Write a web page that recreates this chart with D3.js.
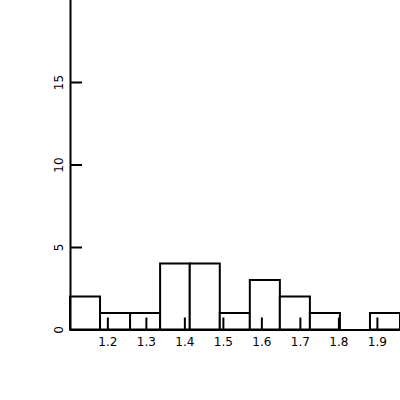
<!DOCTYPE html>
<html>
<head>
<meta charset="utf-8">
<script src="https://cdn.jsdelivr.net/npm/d3@7"></script>
<style>
  body { margin: 0; background: #fff; }
  svg { display: block; }
</style>
</head>
<body>
<div id="chart"></div>
<script>
// histogram bins
var binEdges = [1.103, 1.181, 1.259, 1.337, 1.414, 1.492, 1.570, 1.648, 1.726, 1.804, 1.882, 1.960];
var counts = [2, 1, 1, 4, 4, 1, 3, 2, 1, 0, 1];
var xTicks = [1.2, 1.3, 1.4, 1.5, 1.6, 1.7, 1.8, 1.9];
var yTicks = [0, 5, 10, 15];

var width = 400, height = 400;
var font = "DejaVu Sans, sans-serif";

var bins = counts.map(function(c, i) {
    return { x0: binEdges[i], x1: binEdges[i + 1], count: c };
});

var x = d3.scaleLinear()
    .domain([binEdges[0], binEdges[binEdges.length - 1]])
    .range([70, 400]);

var y = d3.scaleLinear()
    .domain([0, 20])
    .range([329.5, -0.5]);

var svg = d3.select("#chart")
    .append("svg")
    .attr("width", width)
    .attr("height", height);

// bars
svg.selectAll(".bar")
    .data(bins)
    .enter()
    .filter(function(d) { return d.count > 0; })
    .append("rect")
    .attr("class", "bar")
    .attr("x", function(d) { return x(d.x0); })
    .attr("y", function(d) { return y(d.count); })
    .attr("width", function(d) { return x(d.x1) - x(d.x0); })
    .attr("height", function(d) { return y(0) - y(d.count); })
    .attr("fill", "white")
    .attr("stroke", "black")
    .attr("stroke-width", 2);

// x axis, ticks pointing up
var xAxis = svg.append("g")
    .attr("transform", "translate(0," + y(0) + ")")
    .call(d3.axisBottom(x)
        .tickValues(xTicks)
        .tickFormat(d3.format(".1f"))
        .tickSizeInner(-12)
        .tickSizeOuter(0)
        .tickPadding(8));

xAxis.attr("font-family", font).attr("font-size", 12);
xAxis.select(".domain").attr("stroke-width", 2);
xAxis.selectAll(".tick line").attr("stroke-width", 2);
xAxis.selectAll(".tick text").attr("fill", "black");

// y axis, ticks pointing right, labels rotated
var yAxis = svg.append("g")
    .attr("transform", "translate(70,0)")
    .call(d3.axisLeft(y)
        .tickValues(yTicks)
        .tickSizeInner(-12)
        .tickSizeOuter(0));

yAxis.attr("font-family", font).attr("font-size", 12);
yAxis.select(".domain").attr("stroke-width", 2);
yAxis.selectAll(".tick line").attr("stroke-width", 2);
yAxis.selectAll(".tick text")
    .attr("transform", "rotate(-90)")
    .attr("x", 0)
    .attr("y", -7)
    .attr("dy", 0)
    .attr("text-anchor", "middle")
    .attr("fill", "black");
</script>
</body>
</html>
